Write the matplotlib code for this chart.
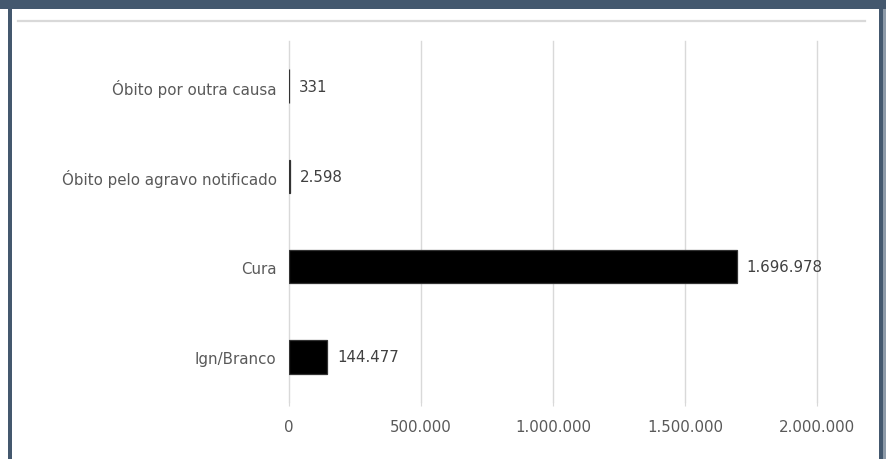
import matplotlib
matplotlib.use("Agg")
import matplotlib.pyplot as plt
from matplotlib.patches import Rectangle
from matplotlib.lines import Line2D
from matplotlib.ticker import FuncFormatter

categories = ["Ign/Branco", "Cura", "Óbito pelo agravo notificado",
              "Óbito por outra causa"]
values = [144477, 1696978, 2598, 331]
x_ticks = [0, 500000, 1000000, 1500000, 2000000]

W, H = 886, 460
FRAME = "#44586e"
TXT = "#595959"
GRID = "#d9d9d9"
FS = 10.8


def br(v):
    return f"{v:,.0f}".replace(",", ".")


fig = plt.figure(figsize=(W / 100, H / 100), dpi=100)
fig.patch.set_facecolor("white")

# frame around the panel (pixel coords converted to figure fractions)
def px_rect(x0, y0, x1, y1, color):
    fig.patches.append(Rectangle((x0 / W, 1 - y1 / H), (x1 - x0) / W,
                                 (y1 - y0) / H, transform=fig.transFigure,
                                 facecolor=color, edgecolor="none", zorder=5))

px_rect(0, 0, W, 10, FRAME)
px_rect(8, 0, 12, H, FRAME)
px_rect(879, 0, 883, H, FRAME)
px_rect(883, 10, W, H, "#8d9aa8")
fig.lines.append(Line2D([18 / W, 865 / W], [1 - 21.5 / H, 1 - 21.5 / H],
                        transform=fig.transFigure, color=GRID, lw=1.6))

x0, x1, y0, y1 = 289, 817, 42, 403
ax = fig.add_axes([x0 / W, 1 - y1 / H, (x1 - x0) / W, (y1 - y0) / H])
ax.set_xlim(0, 2000000)
ax.set_ylim(-0.5, len(categories) - 0.5)
ax.barh(range(len(categories)), values, height=0.37, color="black",
        edgecolor="#333333", linewidth=0.9, zorder=3)
for i, v in enumerate(values):
    ax.annotate(br(v), (v, i), xytext=(7, 0), textcoords="offset points",
                va="center", ha="left", fontsize=FS, color="#404040")

ax.set_yticks(range(len(categories)))
ax.set_yticklabels(categories)
ax.set_xticks(x_ticks)
ax.xaxis.set_major_formatter(FuncFormatter(lambda v, _: br(v)))
ax.tick_params(axis="y", length=0, pad=9, labelsize=FS, labelcolor=TXT)
ax.tick_params(axis="x", length=3, color=GRID, pad=9, labelsize=FS,
               labelcolor=TXT)
ax.grid(axis="x", color=GRID, lw=1.0, zorder=0)
for gl in ax.get_xgridlines():
    gl.set_clip_on(False)
for s in ax.spines.values():
    s.set_visible(False)

fig.savefig("out.png", dpi=100)
